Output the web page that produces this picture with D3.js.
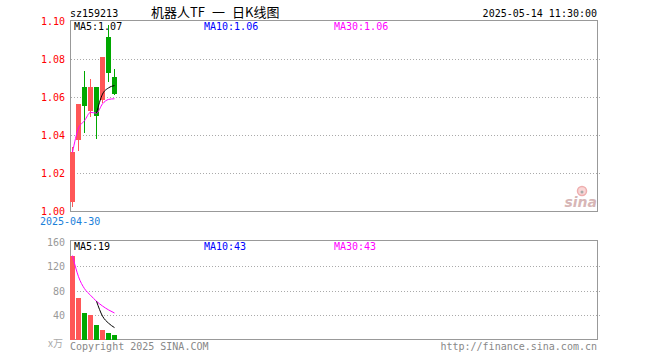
<!DOCTYPE html>
<html><head><meta charset="utf-8">
<script src="https://cdn.jsdelivr.net/npm/d3@7"></script>
<style>
html,body{margin:0;padding:0;background:#fff;}
svg{display:block;}
text{font-family:"DejaVu Sans Mono","Liberation Mono",monospace;font-size:10px;}
</style></head>
<body>
<svg id="c" width="660" height="360"></svg>
<script>
// ---- data ----
const dates  = ["2025-04-30","2025-05-06","2025-05-07","2025-05-08","2025-05-09","2025-05-12","2025-05-13","2025-05-14"];
const open   = [1.005, 1.0375, 1.0653, 1.053, 1.0653, 1.0586, 1.0918, 1.0707];
const close  = [1.031, 1.0565, 1.0555, 1.0653, 1.050, 1.081, 1.0729, 1.0616];
const high   = [1.034, 1.0565, 1.0737, 1.0695, 1.0653, 1.081, 1.098, 1.075];
const low    = [1.0024, 1.032, 1.041, 1.0498, 1.038, 1.057, 1.068, 1.061];
const volume = [137, 68, 44, 40, 23, 16, 10.5, 7.5];
const priceTicks = [1.00, 1.02, 1.04, 1.06, 1.08, 1.10];
const volTicks = [40, 80, 120, 160];
const priceLegend = ["MA5:1.07", "MA10:1.06", "MA30:1.06"];
const volLegend = ["MA5:19", "MA10:43", "MA30:43"];
const titleParts = ["机器人TF", "一", "日K线图"];
const code = "sz159213";
const stamp = "2025-05-14 11:30:00";

const RED = "#ff5757", GREEN = "#00a800";
const svg = d3.select("#c");

const L = 70, R = 597;
const x = d3.scaleLinear().domain([0, 88]).range([L, L + 88 * 6]);
const y = d3.scaleLinear().domain([1.00, 1.10]).range([211.3, 21.3]);
const yv = d3.scaleLinear().domain([0, 160]).range([339.5, 241.5]);

// frames
svg.append("rect").attr("x", L + 0.5).attr("y", 20.5).attr("width", R - L).attr("height", 191)
  .attr("fill", "none").attr("stroke", "#999").attr("shape-rendering", "crispEdges");
svg.append("rect").attr("x", L + 0.5).attr("y", 240.5).attr("width", R - L).attr("height", 99)
  .attr("fill", "none").attr("stroke", "#999").attr("shape-rendering", "crispEdges");

// gridlines
svg.append("g").selectAll("line").data(priceTicks.filter(d => d > 1.0 && d < 1.1)).join("line")
  .attr("x1", L + 1).attr("x2", 600)
  .attr("y1", d => Math.round(y(d)) + 0.5).attr("y2", d => Math.round(y(d)) + 0.5)
  .attr("stroke", "#aaa").attr("stroke-dasharray", "1,2").attr("shape-rendering", "crispEdges");
svg.append("g").selectAll("line").data(volTicks.filter(d => d < 160)).join("line")
  .attr("x1", L + 1).attr("x2", 600)
  .attr("y1", d => Math.round(yv(d)) + 0.5).attr("y2", d => Math.round(yv(d)) + 0.5)
  .attr("stroke", "#aaa").attr("stroke-dasharray", "1,2").attr("shape-rendering", "crispEdges");

// axes labels
const ay = svg.append("g").attr("transform", `translate(${L},0)`)
  .call(d3.axisLeft(y).tickValues(priceTicks).tickSize(0).tickPadding(5).tickFormat(d3.format(".2f")));
ay.select(".domain").remove();
ay.selectAll("text").attr("fill", "#ff0000").style("font-size", "10px").attr("dy", "0.35em");
const av = svg.append("g").attr("transform", `translate(${L},0)`)
  .call(d3.axisLeft(yv).tickValues(volTicks).tickSize(0).tickPadding(5));
av.select(".domain").remove();
av.selectAll("text").attr("fill", "#999").style("font-size", "10px").attr("dy", "0.35em");
svg.append("text").attr("x", 48).attr("y", 347).attr("fill", "#aaa")
  .style("font-family", "'Noto Sans CJK SC'").style("font-size", "10px").text("x万");

// sina watermark
const wm = svg.append("g").attr("opacity", 0.5);
wm.append("circle").attr("cx", 582).attr("cy", 191).attr("r", 4.5).attr("fill", "#f4b0b0").attr("stroke", "#e06060").attr("stroke-width", 1.5);
wm.append("circle").attr("cx", 582).attr("cy", 192).attr("r", 1.5).attr("fill", "#555");
wm.append("text").attr("x", 597).attr("y", 207).attr("text-anchor", "end")
  .style("font-family", "'DejaVu Sans'").style("font-size", "14px").style("font-weight", "bold").style("font-style", "italic")
  .attr("fill", "#b07070").text("sina");

// candles
const idx = d3.range(dates.length);
const up = i => close[i] >= open[i];
const cg = svg.append("g").attr("shape-rendering", "crispEdges");
cg.selectAll("line").data(idx).join("line")
  .attr("x1", i => x(i) + 2.5).attr("x2", i => x(i) + 2.5)
  .attr("y1", i => y(high[i])).attr("y2", i => y(low[i]))
  .attr("stroke", i => up(i) ? RED : GREEN);
cg.selectAll("rect").data(idx).join("rect")
  .attr("x", i => x(i)).attr("width", 5)
  .attr("y", i => y(Math.max(open[i], close[i])))
  .attr("height", i => Math.max(1, Math.abs(y(open[i]) - y(close[i]))))
  .attr("fill", i => up(i) ? RED : GREEN);

// moving averages
function ma(arr, n) { return idx.map(i => i < n - 1 ? null : d3.mean(arr.slice(i - n + 1, i + 1))); }
function cum(arr) { return idx.map(i => d3.mean(arr.slice(0, i + 1))); }
function drawLine(vals, ys, color) {
  const pts = idx.filter(i => vals[i] != null).map(i => [x(i) + 2.5, ys(vals[i])]);
  svg.append("path").attr("d", d3.line().curve(d3.curveMonotoneX)(pts))
    .attr("fill", "none").attr("stroke", color).attr("stroke-width", 1);
}
drawLine(cum(close), y, "#ff00ff");
drawLine(ma(close, 5), y, "#000");

// volume bars
svg.append("g").attr("shape-rendering", "crispEdges").selectAll("rect").data(idx).join("rect")
  .attr("x", i => x(i)).attr("width", 5)
  .attr("y", i => yv(volume[i])).attr("height", i => yv(0) - yv(volume[i]))
  .attr("fill", i => up(i) ? RED : GREEN);
drawLine(cum(volume), yv, "#ff00ff");
drawLine(ma(volume, 5), yv, "#000");

// legends
const legColors = ["#000", "#0000ff", "#ff00ff"];
const legX = [74, 204, 334];
priceLegend.forEach((t, i) => svg.append("text").attr("x", legX[i]).attr("y", 30).attr("fill", legColors[i]).text(t));
volLegend.forEach((t, i) => svg.append("text").attr("x", legX[i]).attr("y", 250).attr("fill", legColors[i]).text(t));

// header
svg.append("text").attr("x", 70).attr("y", 17).attr("fill", "#000").text(code);
const titleX = [151, 212, 232];
titleParts.forEach((t, i) => svg.append("text").attr("x", titleX[i]).attr("y", 17).attr("fill", "#000")
  .style("font-family", "'Noto Sans CJK SC'").style("font-size", "13px").text(t));
svg.append("text").attr("x", 597).attr("y", 17).attr("text-anchor", "end").attr("fill", "#000").text(stamp);
svg.append("text").attr("x", 40).attr("y", 225).attr("fill", "#1a80d9").text(dates[0]);

// footer
svg.append("text").attr("x", 70).attr("y", 350).attr("fill", "#888").text("Copyright 2025 SINA.COM");
svg.append("text").attr("x", 597).attr("y", 350).attr("text-anchor", "end").attr("fill", "#888").text("http://finance.sina.com.cn");
</script>
</body></html>
